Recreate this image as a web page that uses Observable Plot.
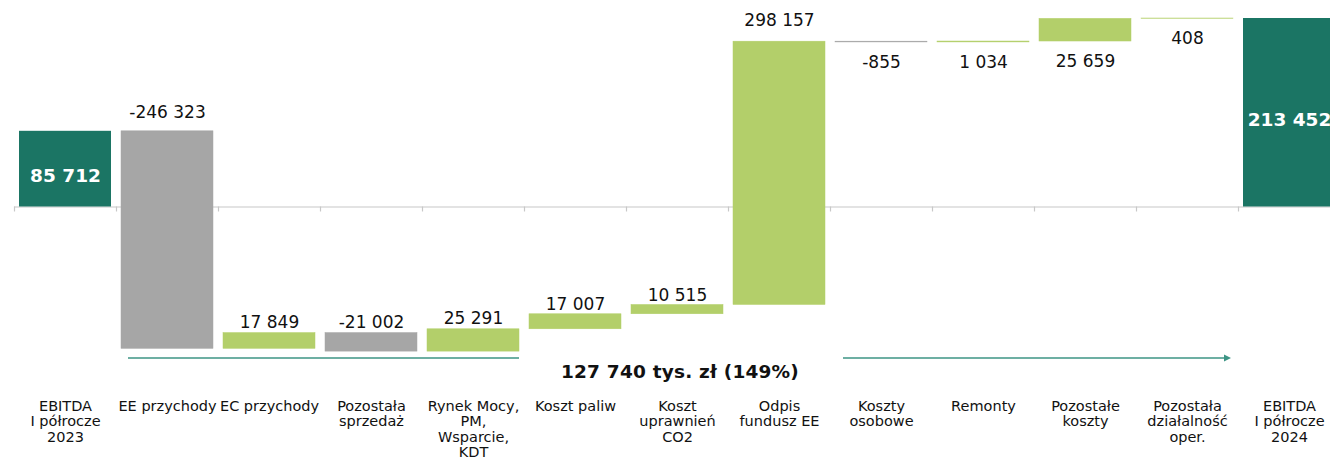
<!DOCTYPE html>
<html>
<head>
<meta charset="utf-8">
<script src="https://cdn.jsdelivr.net/npm/d3@7"></script>
<script src="https://cdn.jsdelivr.net/npm/@observablehq/plot@0.6"></script>
<style>
  html, body { margin: 0; padding: 0; background: #fff; overflow: hidden; }
  #chart svg { display: block; }
</style>
</head>
<body>
<div id="chart"></div>
<script>
// ---- data ----
const categories = [
  "EBITDA\nI półrocze\n2023",
  "EE przychody",
  "EC przychody",
  "Pozostała\nsprzedaż",
  "Rynek Mocy,\nPM,\nWsparcie,\nKDT",
  "Koszt paliw",
  "Koszt\nuprawnień\nCO2",
  "Odpis\nfundusz EE",
  "Koszty\nosobowe",
  "Remonty",
  "Pozostałe\nkoszty",
  "Pozostała\ndziałalność\noper.",
  "EBITDA\nI półrocze\n2024"
];
const values = [85712, -246323, 17849, -21002, 25291, 17007, 10515, 298157, -855, 1034, 25659, 408, 213452];
const isTotal = [true, false, false, false, false, false, false, false, false, false, false, false, true];
const unit = "tys. zł";

// ---- layout / style ----
const W = 1330, H = 459;
const xLeft = 14, xRight = 1340;
const zeroPx = 206.5, finalPx = 18;
const marginBottom = 60;
const belowFrom = 8; // labels of later steps sit under their bars
const TEAL = "#1b7564", GREEN = "#b3cf6a", GRAY = "#a6a6a6", AXIS = "#c8c8c8", ARROW = "#3d9585";

const fmt = d3.formatLocale({decimal: ",", thousands: " ", grouping: [3], currency: ["", ""], minus: "-"}).format(",d");

let run = 0;
const rows = categories.map((cat, i) => {
  const v = values[i];
  let y1, y2, kind;
  if (isTotal[i]) { y1 = 0; y2 = v; run = v; kind = "total"; }
  else { y1 = run; y2 = run + v; run = y2; kind = v >= 0 ? "up" : "down"; }
  return {cat, i, v, y1, y2, kind, top: Math.max(y1, y2), bottom: Math.min(y1, y2)};
});
const totals = rows.filter(d => d.kind === "total");
const steps = rows.filter(d => d.kind !== "total");
const startVal = values[0], endVal = values[values.length - 1];
const step = (xRight - xLeft) / categories.length;

function annotation(index, scales, vals, dims) {
  const x = scales.x;
  const bw = typeof x.bandwidth === "function" ? x.bandwidth() : step * 0.9;
  const base = dims.height - dims.marginBottom;
  const lineY = base - 41, textY = base - 28;
  const g = d3.create("svg:g");
  g.append("line")
    .attr("x1", x(categories[1]) + 7).attr("x2", x(categories[4]) + bw)
    .attr("y1", lineY).attr("y2", lineY)
    .attr("stroke", ARROW).attr("stroke-width", 1.3);
  const tip = x(categories[11]) + bw - 2;
  g.append("line")
    .attr("x1", x(categories[8]) + 8).attr("x2", tip - 6)
    .attr("y1", lineY).attr("y2", lineY)
    .attr("stroke", ARROW).attr("stroke-width", 1.3);
  g.append("path")
    .attr("d", `M${tip},${lineY} L${tip - 7},${lineY - 3.5} L${tip - 7},${lineY + 3.5} Z`)
    .attr("fill", ARROW);
  const diff = endVal - startVal;
  g.append("text")
    .attr("x", x(categories[6]) + bw / 2 + 3)
    .attr("y", textY)
    .attr("dy", "0.36em")
    .attr("text-anchor", "middle")
    .attr("font-weight", "bold")
    .attr("font-size", 18.5)
    .attr("letter-spacing", 0.2)
    .attr("fill", "#111")
    .text(`${fmt(diff)} ${unit} (${Math.round(100 * diff / startVal)}%)`);
  return g.node();
}

const chart = Plot.plot({
  width: W,
  height: H,
  marginLeft: xLeft,
  marginRight: 0,
  marginTop: 0,
  marginBottom: marginBottom,
  style: {fontFamily: "'DejaVu Sans', Verdana, sans-serif", background: "#fff", overflow: "hidden", color: "#111"},
  x: {domain: categories, range: [xLeft, xRight], paddingInner: 0.1, paddingOuter: 0.05, axis: null},
  y: {domain: [0, endVal], range: [zeroPx, finalPx], axis: null},
  marks: [
    Plot.ruleY([0], {stroke: AXIS, strokeWidth: 1.2}),
    Plot.ruleX(categories, {x: d => d, y1: 0, y2: 0, insetBottom: -5, dx: -step / 2, stroke: AXIS, strokeWidth: 1.2}),
    Plot.barY(totals, {x: "cat", y1: "y1", y2: "y2", fill: TEAL}),
    Plot.barY(steps.filter(d => d.kind === "up"), {x: "cat", y1: "y1", y2: "y2", fill: GREEN, stroke: GREEN, strokeWidth: 0.5}),
    Plot.barY(steps.filter(d => d.kind === "down"), {x: "cat", y1: "y1", y2: "y2", fill: GRAY, stroke: GRAY, strokeWidth: 0.5}),
    Plot.text(totals, {x: "cat", y: d => d.v / 2, text: d => fmt(d.v), fill: "white", fontWeight: "bold", fontSize: 18.5, lineAnchor: "middle", dy: 7}),
    Plot.text(steps.filter(d => d.i < belowFrom), {x: "cat", y: d => d.top + 0.045 * Math.abs(d.v), text: d => fmt(d.v), fill: "#111", fontSize: 17, lineAnchor: "bottom", dy: -4}),
    Plot.text(steps.filter(d => d.i >= belowFrom), {x: "cat", y: "bottom", text: d => fmt(d.v), fill: "#111", fontSize: 17, lineAnchor: "top", dy: 13}),
    Plot.axisX({anchor: "bottom", tickSize: 0, tickPadding: 0, fontSize: 14.5, lineHeight: 1.07, label: null, fill: "#111"}),
    annotation
  ]
});
document.getElementById("chart").append(chart);
</script>
</body>
</html>
